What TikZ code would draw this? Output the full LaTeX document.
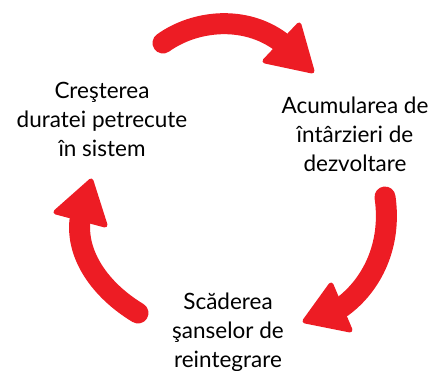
\documentclass[tikz,border=0pt]{standalone}
\usepackage{fontspec}
\setmainfont{Lato}
\definecolor{cyclered}{HTML}{ED1C24}
\begin{document}
\begin{tikzpicture}[x=1pt, y=-1pt,
    stage/.style={align=center, font=\fontsize{22.5}{29}\selectfont},
    cyclebody/.style={draw=cyclered, line width=21pt, line cap=round},
    cyclehead/.style={fill=cyclered, draw=cyclered, line width=5pt, line join=round}
]
    \useasboundingbox (0,0) rectangle (442,371);

    % Stages
    \node[stage] (crestere) at (102,119) {Creşterea\\duratei petrecute\\în sistem};
    \node[stage] (acumulare) at (355,134) {Acumularea de\\întârzieri de\\dezvoltare};
    \node[stage] (scadere) at (228,332) {Scăderea\\şanselor de\\reintegrare};

    % Arrows
    \coordinate (top start) at (163,43);
    \coordinate (top end) at (281,42);
    \coordinate (right start) at (385,197);
    \coordinate (right end) at (342,307);
    \coordinate (left start) at (138,313);
    \coordinate (left end) at (80,220);

    \draw[cyclebody] (top start) .. controls (195,20) and (245,15) .. (top end);
    \filldraw[cyclehead] (299,25) -- (265,61) -- (312,71) -- cycle;

    \draw[cyclebody] (right start) .. controls (392,245) and (372,285) .. (right end);
    \filldraw[cyclehead] (331,285) -- (305,321) -- (350,330) -- cycle;

    \draw[cyclebody] (left start) .. controls (100,290) and (76,255) .. (left end);
    \filldraw[cyclehead] (91,181) -- (56,212) -- (105,225) -- cycle;
\end{tikzpicture}
\end{document}
